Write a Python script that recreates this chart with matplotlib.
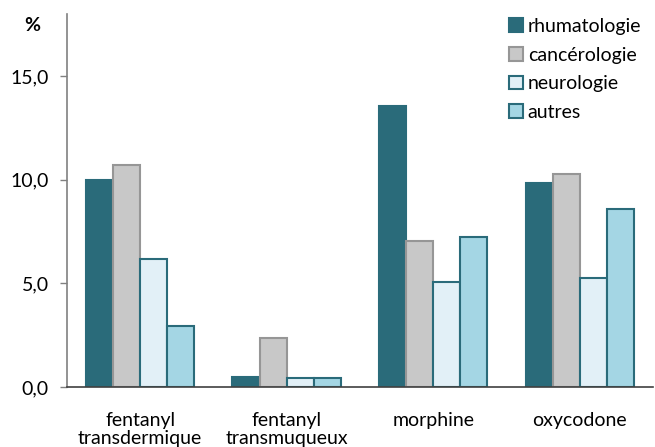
import numpy as np
import matplotlib.pyplot as plt
from matplotlib.ticker import FuncFormatter

plt.rcParams['font.family'] = ['Lato', 'DejaVu Sans']

produits = ['fentanyl\ntransdermique', 'fentanyl\ntransmuqueux', 'morphine', 'oxycodone']
series = ['rhumatologie', 'cancérologie', 'neurologie', 'autres']
rhumatologie = [10.0, 0.5, 13.55, 9.85]
cancerologie = [10.7, 2.35, 7.05, 10.3]
neurologie = [6.2, 0.42, 5.07, 5.25]
autres = [2.95, 0.42, 7.25, 8.6]
valeurs = [rhumatologie, cancerologie, neurologie, autres]

teal = '#2a6b7a'
fills = [teal, '#c8c8c8', '#e2f0f7', '#a4d6e4']
edges = [teal, '#969696', teal, teal]

fig = plt.figure(figsize=(6.55, 4.47), dpi=100)
ax = fig.add_axes([0.102, 0.134, 0.895, 0.835])

x = np.arange(len(produits))
w = 0.185
for i, (nom, v) in enumerate(zip(series, valeurs)):
    ax.bar(x + (i - 1.5) * w, v, w, color=fills[i], edgecolor=edges[i],
           linewidth=1.5, label=nom, zorder=2)

ax.set_xlim(-0.5, 3.5)
ax.set_ylim(0, 18)
ax.set_yticks([0, 5, 10, 15])
ax.yaxis.set_major_formatter(FuncFormatter(lambda v, p: f'{v:.1f}'.replace('.', ',')))
ax.set_xticks(x)
ax.set_xticklabels(produits, fontsize=14, linespacing=1.05)
ax.tick_params(axis='x', length=0, pad=18)
ax.tick_params(axis='y', labelsize=14, length=5, color='#808080', width=1, pad=8)

for s in ['top', 'right']:
    ax.spines[s].set_visible(False)
ax.spines['left'].set_color('#808080')
ax.spines['left'].set_linewidth(1.2)
ax.spines['bottom'].set_color('#404040')
ax.spines['bottom'].set_linewidth(1.2)

fig.text(0.049, 0.943, '%', fontsize=14, fontweight='bold', ha='center', va='center')

ax.legend(loc='upper right', bbox_to_anchor=(1.0, 1.02), frameon=False, fontsize=14,
          handlelength=0.7, handleheight=0.7, handletextpad=0.25, labelspacing=0.6,
          borderaxespad=0.2)

fig.savefig('out.png', dpi=100)
